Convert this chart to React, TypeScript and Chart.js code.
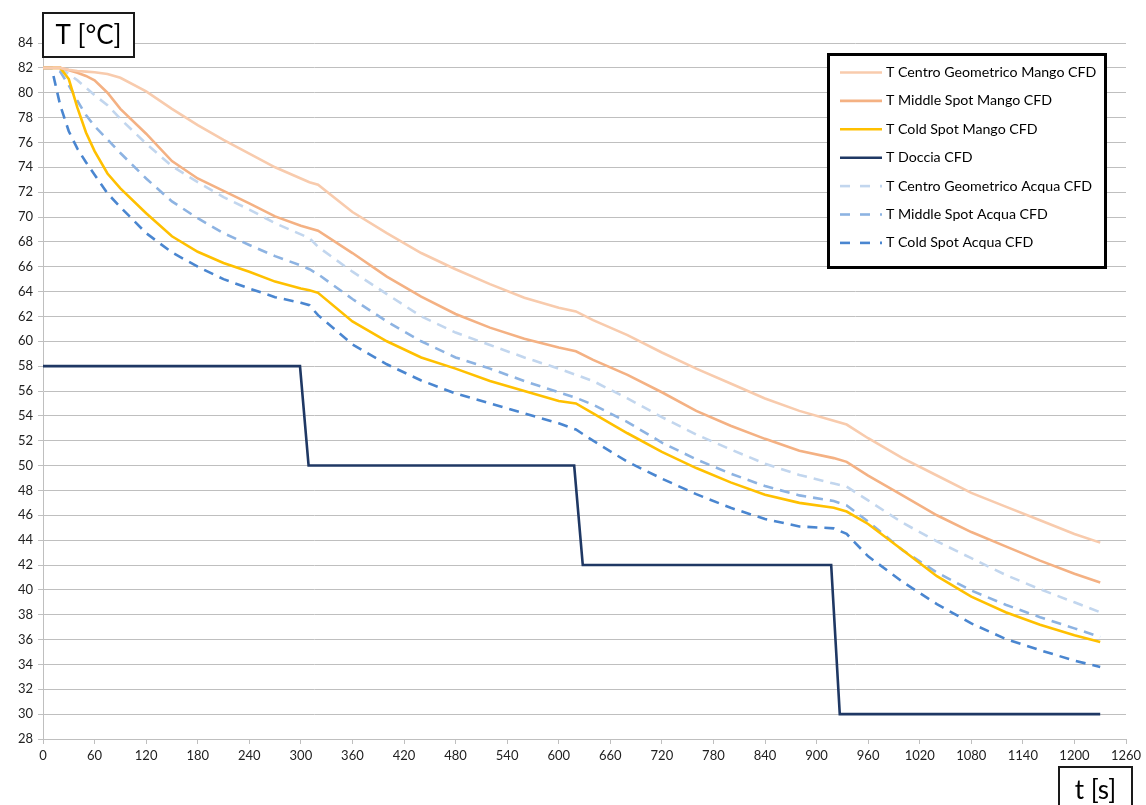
import React, { useEffect, useRef } from "react";
import Chart from "chart.js/auto";

const times = [0, 10, 20, 30, 40, 50, 60, 75, 90, 120, 150, 180, 210, 240, 270, 300, 310, 320, 360, 400, 440, 480, 520, 560, 600, 620, 640, 680, 720, 760, 800, 840, 880, 920, 935, 960, 1000, 1040, 1080, 1120, 1160, 1200, 1230];

const centroMango = [82, 82, 82, 81.85, 81.75, 81.7, 81.65, 81.5, 81.2, 80.1, 78.7, 77.4, 76.2, 75.1, 74.0, 73.1, 72.8, 72.6, 70.4, 68.7, 67.1, 65.8, 64.6, 63.5, 62.7, 62.4, 61.7, 60.5, 59.1, 57.8, 56.6, 55.4, 54.4, 53.6, 53.3, 52.2, 50.6, 49.2, 47.8, 46.7, 45.6, 44.5, 43.8];
const middleMango = [82, 82, 82, 81.8, 81.6, 81.35, 81.0, 80.0, 78.7, 76.7, 74.5, 73.1, 72.1, 71.1, 70.05, 69.3, 69.1, 68.9, 67.1, 65.2, 63.6, 62.2, 61.1, 60.2, 59.5, 59.2, 58.5, 57.3, 55.9, 54.4, 53.2, 52.15, 51.2, 50.6, 50.3, 49.2, 47.6, 46.0, 44.65, 43.5, 42.35, 41.3, 40.6];
const coldMango = [82, 82, 82, 81.1, 78.8, 76.8, 75.3, 73.5, 72.3, 70.3, 68.45, 67.2, 66.3, 65.6, 64.8, 64.25, 64.1, 63.9, 61.6, 60.0, 58.7, 57.8, 56.8, 56.0, 55.2, 55.0, 54.2, 52.6, 51.1, 49.8, 48.65, 47.65, 47.0, 46.6, 46.3, 45.3, 43.2, 41.1, 39.45, 38.2, 37.2, 36.35, 35.8];
const docciaTimes = [0, 299, 309, 618, 628, 917, 927, 1230];
const doccia = [58, 58, 50, 50, 42, 42, 30, 30];
const centroAcqua = [82, 82, 82, 81.5, 81.0, 80.4, 79.8, 79.0, 77.9, 75.9, 74.1, 72.8, 71.6, 70.6, 69.5, 68.6, 68.3, 67.6, 65.6, 63.8, 62.0, 60.7, 59.7, 58.7, 57.8, 57.3, 56.8, 55.4, 53.9, 52.5, 51.3, 50.15, 49.25, 48.55, 48.3, 47.2, 45.4, 43.9, 42.55, 41.2, 40.05, 39.0, 38.2];
const middleAcqua = [82, 82, 81.7, 80.6, 79.35, 78.2, 77.3, 76.25, 75.15, 73.1, 71.25, 69.9, 68.7, 67.75, 66.85, 66.1, 65.8, 65.4, 63.4, 61.6, 60.0, 58.7, 57.8, 56.8, 55.9, 55.45, 54.9, 53.5, 51.85, 50.5, 49.35, 48.35, 47.6, 47.15, 46.8, 45.5, 43.2, 41.4, 39.95, 38.8, 37.8, 36.9, 36.2];
const coldAcqua = [82, 82, 79.0, 76.9, 75.5, 74.4, 73.4, 71.9, 70.8, 68.7, 67.15, 66.0, 65.0, 64.25, 63.55, 63.1, 62.9, 62.1, 59.75, 58.15, 56.85, 55.8, 55.0, 54.2, 53.4, 52.9, 52.0, 50.3, 48.95, 47.7, 46.6, 45.7, 45.1, 44.95, 44.5, 42.7, 40.65, 38.85, 37.3, 36.05, 35.15, 34.3, 33.8];

const seriesNames = [
  "T Centro Geometrico Mango CFD",
  "T Middle Spot Mango CFD",
  "T Cold Spot Mango CFD",
  "T Doccia CFD",
  "T Centro Geometrico Acqua CFD",
  "T Middle Spot Acqua CFD",
  "T Cold Spot Acqua CFD",
];

const FONT = "Lato";

function pts(xs: number[], ys: number[]) {
  return xs.map((x, i) => ({ x, y: ys[i] }));
}

const overlayPlugin = {
  id: "overlay",
  afterDraw(chart: any) {
    const ctx = chart.ctx;
    ctx.save();
    // Y axis title box
    ctx.fillStyle = "#ffffff";
    ctx.fillRect(43, 13, 91, 44);
    ctx.strokeStyle = "#1a1a1a";
    ctx.lineWidth = 2;
    ctx.strokeRect(43, 13, 91, 44);
    ctx.fillStyle = "#000";
    ctx.font = `26px ${FONT}`;
    ctx.textAlign = "center";
    ctx.textBaseline = "middle";
    ctx.fillText("T [°C]", 88.5, 36);
    // X axis title box
    ctx.fillStyle = "#ffffff";
    ctx.fillRect(1059, 767, 73, 45);
    ctx.strokeRect(1059, 767, 73, 45);
    ctx.fillStyle = "#000";
    ctx.fillText("t [s]", 1095.5, 791);

    // Legend
    ctx.fillStyle = "#ffffff";
    ctx.fillRect(828.5, 54.5, 277, 213);
    ctx.strokeStyle = "#000";
    ctx.lineWidth = 3;
    ctx.strokeRect(828.5, 54.5, 277, 213);
    const rowY0 = 72.5;
    const rowStep = 28.4;
    chart.data.datasets.forEach((ds: any, i: number) => {
      const y = rowY0 + i * rowStep;
      ctx.save();
      ctx.strokeStyle = ds.borderColor;
      ctx.lineWidth = ds.borderWidth;
      ctx.setLineDash(ds.borderDash && ds.borderDash.length ? [10, 10] : []);
      ctx.beginPath();
      ctx.moveTo(840, y);
      ctx.lineTo(882, y);
      ctx.stroke();
      ctx.restore();
      ctx.fillStyle = "#000";
      ctx.font = `14.2px ${FONT}`;
      ctx.textAlign = "left";
      ctx.textBaseline = "middle";
      ctx.fillText(ds.label, 886, y);
    });
    ctx.restore();
  },
};

export default function App() {
  const ref = useRef<HTMLCanvasElement>(null);
  useEffect(() => {
    if (!ref.current) return;
    const mk = (label: string, xs: number[], ys: number[], color: string, dash: number[] = []) => ({
      label,
      data: pts(xs, ys),
      borderColor: color,
      backgroundColor: color,
      borderWidth: 2.6,
      borderDash: dash,
      pointRadius: 0,
      tension: 0,
      fill: false,
    });
    const dash = [10, 7];
    const chart = new Chart(ref.current, {
      type: "line",
      data: {
        datasets: [
          mk(seriesNames[0], times, centroMango, "#F8CBAD"),
          mk(seriesNames[1], times, middleMango, "#F4B183"),
          mk(seriesNames[2], times, coldMango, "#FFC000"),
          mk(seriesNames[3], docciaTimes, doccia, "#1F3864"),
          mk(seriesNames[4], times, centroAcqua, "#C2D6EE", dash),
          mk(seriesNames[5], times, middleAcqua, "#8DB3E2", dash),
          mk(seriesNames[6], times, coldAcqua, "#4A86D0", dash),
        ],
      },
      options: {
        responsive: false,
        animation: false,
        layout: { padding: { left: 0, right: 20, top: 43, bottom: 36 } },
        plugins: { legend: { display: false }, tooltip: { enabled: false }, title: { display: false } },
        scales: {
          x: {
            type: "linear",
            min: 0,
            max: 1260,
            afterFit: (s: any) => { s.height = 30; },
            ticks: {
              stepSize: 60,
              autoSkip: false,
              maxRotation: 0,
              color: "#222",
              font: { family: FONT, size: 13 },
              padding: 4,
              callback: (v: any) => String(v),
            },
            grid: { display: true, drawOnChartArea: false, drawTicks: true, tickLength: 5, color: "#BFBFBF" },
            border: { display: true, color: "#BFBFBF", width: 1 },
          },
          y: {
            type: "linear",
            min: 28,
            max: 84,
            afterFit: (s: any) => { s.width = 43; },
            ticks: { stepSize: 2, autoSkip: false, color: "#222", font: { family: FONT, size: 13 }, padding: 5, callback: (v: any) => String(v) },
            grid: { color: "#BFBFBF", lineWidth: 1, drawTicks: true, tickLength: 5 },
            border: { display: true, color: "#BFBFBF", width: 1 },
          },
        },
      },
      plugins: [overlayPlugin],
    } as any);
    return () => chart.destroy();
  }, []);
  return (
    <div style={{ position: "absolute", left: 0, top: 0, width: 1146, height: 805, background: "#fff" }}>
      <canvas ref={ref} width={1146} height={805} />
    </div>
  );
}
